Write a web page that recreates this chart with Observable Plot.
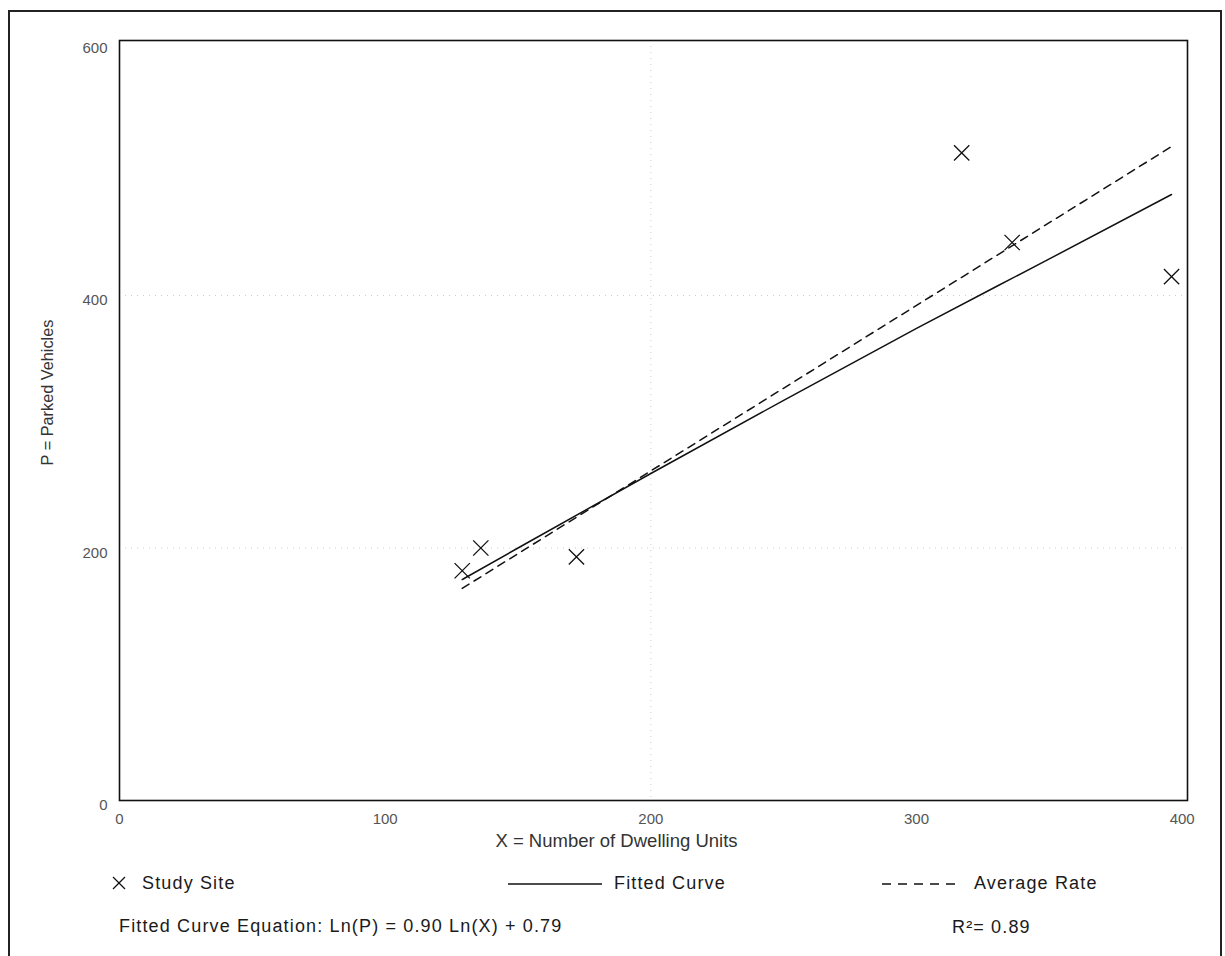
<!DOCTYPE html>
<html><head><meta charset="utf-8">
<script src="https://cdn.jsdelivr.net/npm/d3@7"></script>
<script src="https://cdn.jsdelivr.net/npm/@observablehq/plot@0.6"></script>
<style>
body{margin:0;background:#fff;font-family:"Liberation Sans",Arial,sans-serif;}
#wrap{position:relative;width:1225px;height:956px;overflow:hidden;background:#fff;}
#border{position:absolute;left:8px;top:10px;width:1214px;height:980px;border:2px solid #222;box-sizing:border-box;pointer-events:none;}
#chart{position:absolute;left:0;top:0;}
#chart g[aria-label$="tick label"]{font-size:15px !important;}
.lg{position:absolute;font-size:18px;color:#1a1a1a;letter-spacing:1.15px;white-space:nowrap;line-height:20px;}
.lg svg{vertical-align:middle;}
</style></head><body>
<div id="wrap">
  <div id="chart"></div>
  <div id="border"></div>
  <div class="lg" style="left:112px;top:873px;"><svg width="14" height="14" style="margin-right:16px;position:relative;top:-1px"><line x1="1" y1="1" x2="13" y2="13" stroke="#111" stroke-width="1.3"/><line x1="13" y1="1" x2="1" y2="13" stroke="#111" stroke-width="1.3"/></svg><span id="lgSite"></span></div>
  <div class="lg" style="left:508px;top:873px;"><svg width="94" height="4" style="margin-right:12px"><line x1="0" y1="2" x2="94" y2="2" stroke="#111" stroke-width="1.5"/></svg><span id="lgFit"></span></div>
  <div class="lg" style="left:882px;top:873px;"><svg width="80" height="4" style="margin-right:12px"><line x1="0" y1="2" x2="80" y2="2" stroke="#111" stroke-width="1.5" stroke-dasharray="9,7"/></svg><span id="lgAvg"></span></div>
  <div class="lg" style="left:119px;top:916px;" id="eq"></div>
  <div class="lg" style="left:952px;top:917px;" id="r2"></div>
</div>
<script>
// ---- data ----
const siteX = [129, 136, 172, 317, 336, 396];
const siteP = [182, 200, 193, 513, 442, 415];
const fittedX = [129, 150, 200, 250, 300, 350, 396];
const fittedP = [175, 200, 259, 317, 374, 429, 480];
const averageX = [129, 396];
const averageP = [168, 518];
const xTicks = [0, 100, 200, 300, 400];
const yTicks = [0, 200, 400, 600];
const gridX = [200];
const gridY = [200, 400];
const xLabel = "X = Number of Dwelling Units";
const yLabel = "P = Parked Vehicles";
const legendLabels = ["Study Site", "Fitted Curve", "Average Rate"];
const equationText = "Fitted Curve Equation: Ln(P) = 0.90 Ln(X) + 0.79";
const r2Text = "R\u00B2= 0.89";

const sites = siteX.map((x, i) => ({x, p: siteP[i]}));
const fitted = fittedX.map((x, i) => ({x, p: fittedP[i]}));
const average = averageX.map((x, i) => ({x, p: averageP[i]}));

const chart = Plot.plot({
  width: 1225,
  height: 956,
  marginLeft: 119,
  marginRight: 38,
  marginTop: 40,
  marginBottom: 156,
  style: {fontFamily: '"Liberation Sans", Arial, sans-serif', fontSize: "15px", background: "transparent"},
  x: {domain: [0, 402]},
  y: {domain: [0, 602]},
  marks: [
    Plot.ruleX(gridX, {stroke: "#ccc", strokeDasharray: "1,5", strokeWidth: 1}),
    Plot.ruleY(gridY, {stroke: "#ccc", strokeDasharray: "1,5", strokeWidth: 1}),
    Plot.axisX({ticks: xTicks, tickSize: 0, tickPadding: 13, fill: "#555", label: null}),
    Plot.axisY({ticks: yTicks, tickSize: 0, tickPadding: 12, fill: "#555", dy: 5, label: null}),
    Plot.text([xLabel], {text: d => d, frameAnchor: "bottom", dy: 46, dx: -37, textAnchor: "middle", fontSize: 18.5, fill: "#333"}),
    Plot.text([yLabel], {text: d => d, frameAnchor: "left", rotate: -90, dx: -72, dy: -28, textAnchor: "middle", fontSize: 16.3, fill: "#333"}),
    Plot.line(average, {x: "x", y: "p", stroke: "#111", strokeWidth: 1.5, strokeDasharray: "8,6"}),
    Plot.line(fitted, {x: "x", y: "p", stroke: "#111", strokeWidth: 1.5, curve: "monotone-x"}),
    Plot.dot(sites, {x: "x", y: "p", symbol: "times", r: 7, stroke: "#111", strokeWidth: 1.3}),
    Plot.frame({stroke: "#111", strokeWidth: 1.6})
  ]
});
document.getElementById("chart").appendChild(chart);
document.getElementById("lgSite").textContent = legendLabels[0];
document.getElementById("lgFit").textContent = legendLabels[1];
document.getElementById("lgAvg").textContent = legendLabels[2];
document.getElementById("eq").textContent = equationText;
document.getElementById("r2").textContent = r2Text;
</script>
</body></html>
